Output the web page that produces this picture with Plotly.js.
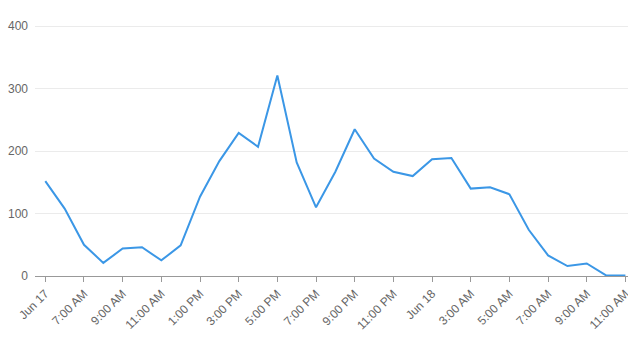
<!DOCTYPE html>
<html>
<head>
<meta charset="utf-8">
<script src="https://cdn.plot.ly/plotly-3.0.1.min.js"></script>
<style>html,body{margin:0;padding:0;background:#fff;}#chart{width:628px;height:341px;}</style>
</head>
<body>
<div id="chart"></div>
<script>
var times = [
  "2024-06-17 05:00","2024-06-17 06:00","2024-06-17 07:00","2024-06-17 08:00",
  "2024-06-17 09:00","2024-06-17 10:00","2024-06-17 11:00","2024-06-17 12:00",
  "2024-06-17 13:00","2024-06-17 14:00","2024-06-17 15:00","2024-06-17 16:00",
  "2024-06-17 17:00","2024-06-17 18:00","2024-06-17 19:00","2024-06-17 20:00",
  "2024-06-17 21:00","2024-06-17 22:00","2024-06-17 23:00","2024-06-18 00:00",
  "2024-06-18 01:00","2024-06-18 02:00","2024-06-18 03:00","2024-06-18 04:00",
  "2024-06-18 05:00","2024-06-18 06:00","2024-06-18 07:00","2024-06-18 08:00",
  "2024-06-18 09:00","2024-06-18 10:00","2024-06-18 11:00"
];
var values = [152, 108, 50, 21, 44, 46, 25, 49, 127, 184, 229, 207, 321, 182, 110, 167,
              235, 188, 167, 160, 187, 189, 140, 142, 131, 74, 33, 16, 20, 1, 1];
var tickTimes = [
  "2024-06-17 05:00","2024-06-17 07:00","2024-06-17 09:00","2024-06-17 11:00",
  "2024-06-17 13:00","2024-06-17 15:00","2024-06-17 17:00","2024-06-17 19:00",
  "2024-06-17 21:00","2024-06-17 23:00","2024-06-18 01:00","2024-06-18 03:00",
  "2024-06-18 05:00","2024-06-18 07:00","2024-06-18 09:00","2024-06-18 11:00"
];
var tickLabels = ["Jun 17","7:00 AM","9:00 AM","11:00 AM","1:00 PM","3:00 PM","5:00 PM","7:00 PM",
  "9:00 PM","11:00 PM","Jun 18","3:00 AM","5:00 AM","7:00 AM","9:00 AM","11:00 AM"];
var yTicks = [0, 100, 200, 300, 400];

var trace = {
  x: times, y: values, type: "scatter", mode: "lines",
  line: {color: "#3b97e6", width: 2},
  hoverinfo: "x+y"
};
var layout = {
  width: 628, height: 341,
  margin: {l: 35, r: 0, t: 25, b: 65},
  paper_bgcolor: "#fff", plot_bgcolor: "#fff",
  font: {family: "Liberation Sans, Arial, sans-serif", size: 12, color: "#666"},
  showlegend: false,
  xaxis: {
    type: "date",
    range: ["2024-06-17 04:28", "2024-06-18 11:08"],
    tickvals: tickTimes, ticktext: tickLabels,
    tickangle: -45,
    ticklabeloverflow: "allow",
    showgrid: false, zeroline: false,
    showline: true, linecolor: "#999", linewidth: 1,
    ticks: "outside", ticklen: 5, tickcolor: "#999", tickwidth: 1,
    tickfont: {size: 12, color: "#666"}
  },
  yaxis: {
    range: [0, 402],
    tickvals: yTicks,
    showgrid: true, gridcolor: "#ebebeb", gridwidth: 1,
    zeroline: false, showline: false,
    ticks: "", ticklabelstandoff: 6,
    tickfont: {size: 12, color: "#666"}
  }
};
Plotly.newPlot("chart", [trace], layout, {displayModeBar: false, staticPlot: true});
</script>
</body>
</html>
